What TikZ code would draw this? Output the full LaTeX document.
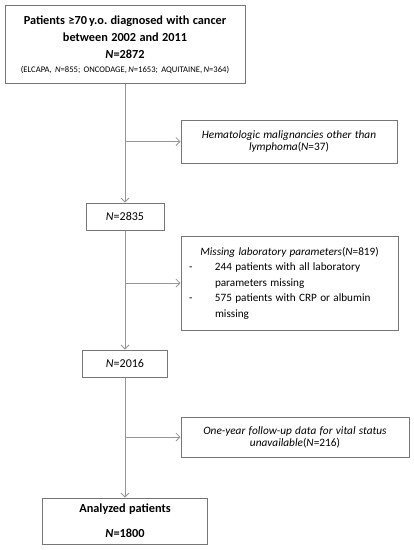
\documentclass[tikz,border=0pt]{standalone}
\usepackage{fontspec}
\setmainfont{Carlito}
\usepackage{xcolor}
\usetikzlibrary{
    arrows.meta
}
\frenchspacing
\definecolor{boxgray}{RGB}{118,118,118}
\definecolor{linegray}{RGB}{150,150,150}
\tikzset{
    flowbox/.style={draw=boxgray, line width=1pt, inner xsep=0pt, inner ysep=2pt, align=center},
    flowline/.style={draw=linegray, line width=0.8pt},
    flowarrow/.style={flowline, -{Straight Barb[length=4pt, width=8pt]}}
}

\begin{document}
\begin{tikzpicture}[x=1pt, y=1pt]
            \useasboundingbox (0,0) rectangle (414,-550);

            \node[flowbox, text width=240pt, minimum height=78pt] (patients) at (125,-44.5) {\fontsize{12.3}{17}\selectfont\bfseries Patients ≥70\,y.o. diagnosed with cancer\\ between 2002 and 2011\\ \textit{N}=2872\\[2pt] {\fontsize{8.6}{9}\selectfont\mdseries (ELCAPA, \textit{N}=855; ONCODAGE,\,\textit{N}=1653; AQUITAINE,\,\textit{N}=364)}};

            \node[flowbox, text width=216pt, minimum height=43pt] (excluded1) at (289,-141.5) {\fontsize{11.3}{15}\selectfont\textit{Hematologic malignancies other than}\\ \textit{lymphoma}(\textit{N}=37)};

            \node[flowbox, text width=78pt, minimum height=27pt] (cohort1) at (125,-216.5) {\fontsize{12}{13}\selectfont\textit{N}=2835};

            \node[flowbox, inner xsep=8pt, text width=201pt, minimum height=94pt, align=left] (excluded2) at (289.5,-283) {\fontsize{11.2}{15.5}\selectfont\makebox[201pt][c]{\textit{Missing laboratory parameters}(\textit{N}=819)}\\
                \makebox[26pt][l]{-}244 patients with all laboratory\\
                \hspace*{26pt}parameters missing\\
                \makebox[26pt][l]{-}575 patients with CRP or albumin\\
                \hspace*{26pt}missing\par\vspace*{9pt}};

            \node[flowbox, text width=85pt, minimum height=27pt] (cohort2) at (125,-363.5) {\fontsize{12}{13}\selectfont\textit{N}=2016};

            \node[flowbox, text width=228pt, minimum height=40pt] (excluded3) at (295,-437) {\fontsize{11.3}{18}\selectfont\textit{One-year follow-up data for vital status}\\ \textit{unavailable}(\textit{N}=216)};

            \node[flowbox, text width=165pt, minimum height=46pt] (analyzed) at (125,-521) {\fontsize{12.3}{13}\selectfont\bfseries Analyzed patients\\[13pt] \textit{N}=1800};

            % main flow
            \draw[flowarrow] (patients.south) -- (cohort1.north);
            \draw[flowarrow] (cohort1.south) -- (cohort2.north);
            \draw[flowarrow] (cohort2.south) -- (analyzed.north);

            % exclusions
            \draw[flowarrow] (patients.south |- excluded1.west) -- (excluded1.west);
            \draw[flowarrow] (cohort1.south |- excluded2.west) -- (excluded2.west);
            \draw[flowarrow] (cohort2.south |- excluded3.west) -- (excluded3.west);
\end{tikzpicture}
\end{document}
